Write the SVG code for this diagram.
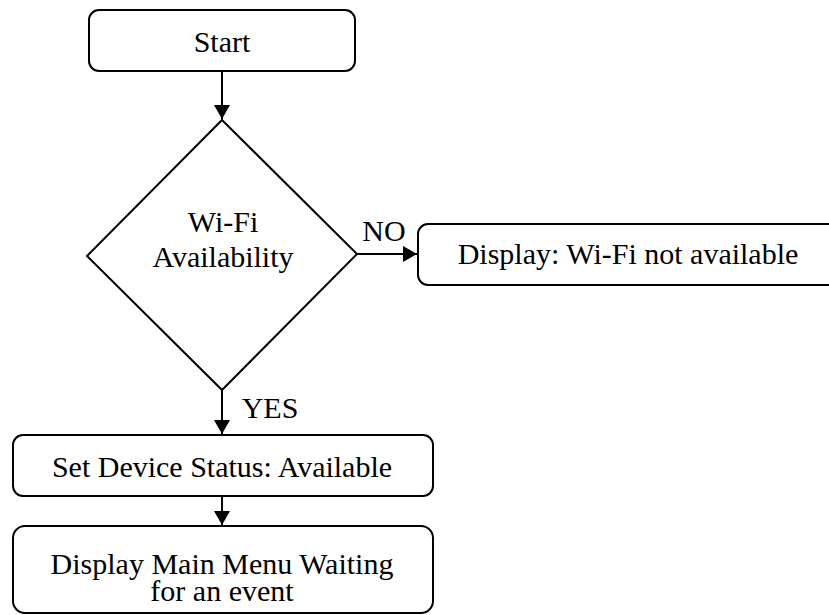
<svg xmlns="http://www.w3.org/2000/svg" width="829" height="615" viewBox="0 0 829 615">
<style>
.box{fill:#fff;stroke:#000;stroke-width:2}
text{font-family:'Liberation Serif','Times New Roman',Times,serif;font-size:30px;fill:#000;text-anchor:middle}
.c{stroke:#000;stroke-width:2;fill:none;marker-end:url(#ah)}
</style>
<defs>
<marker id="ah" viewBox="0 0 14 16" refX="14" refY="8" markerWidth="14" markerHeight="16" markerUnits="userSpaceOnUse" orient="auto">
<path d="M0,0 L14,8 L0,16 Z" fill="#000"/>
</marker>
</defs>
<rect width="829" height="615" fill="#fff"/>
<g id="connectors">
<line class="c" x1="222" y1="71" x2="222" y2="119"/>
<line class="c" x1="357" y1="254" x2="417" y2="254"/>
<line class="c" x1="222" y1="390" x2="222" y2="434"/>
<line class="c" x1="222" y1="496" x2="222" y2="525"/>
<text x="384" y="241" font-family="Liberation Serif, serif">NO</text>
<text x="270" y="418" font-family="Liberation Serif, serif">YES</text>
</g>
<g id="start">
<rect class="box" x="89" y="10" width="266" height="61" rx="10"/>
<text x="222" y="52" font-family="Liberation Serif, serif">Start</text>
</g>
<g id="wifi">
<polygon class="box" points="222,120 357,254 222,390 87,256"/>
<text x="223" y="232" font-family="Liberation Serif, serif">Wi-Fi</text>
<text x="223" y="267" font-family="Liberation Serif, serif">Availability</text>
</g>
<g id="notavail">
<rect class="box" x="418" y="224" width="430" height="61" rx="10"/>
<text x="628" y="264" font-family="Liberation Serif, serif">Display: Wi-Fi not available</text>
</g>
<g id="setstatus">
<rect class="box" x="13" y="435" width="420" height="61" rx="10"/>
<text x="222" y="477" font-family="Liberation Serif, serif">Set Device Status: Available</text>
</g>
<g id="mainmenu">
<rect class="box" x="13" y="526" width="420" height="87" rx="12"/>
<text x="222" y="574" font-family="Liberation Serif, serif">Display Main Menu Waiting</text>
<text x="222" y="601" font-family="Liberation Serif, serif">for an event</text>
</g>
</svg>
